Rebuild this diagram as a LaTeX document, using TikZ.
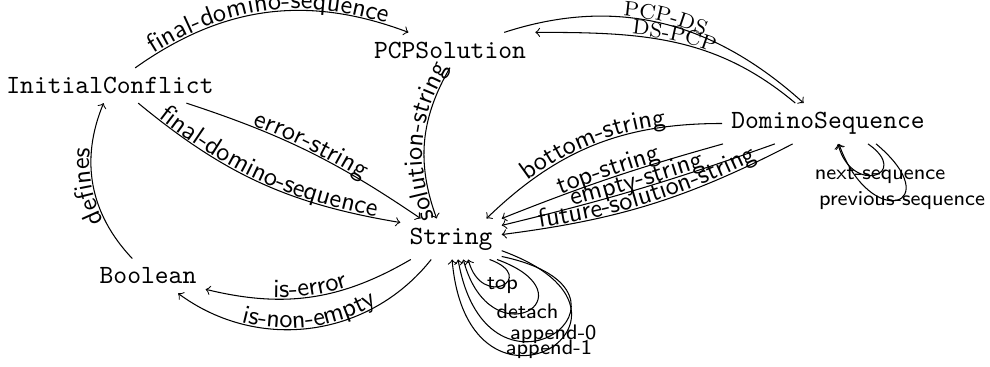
\documentclass[tikz,border=0pt]{standalone}
\usetikzlibrary{decorations.text}
\tikzset{
	type/.style={font=\ttfamily},
	lbl/.style={postaction={decorate,decoration={text along path,text align=center,raise=0.6pt,text={|\sffamily|#1}}}},
	lblrm/.style={postaction={decorate,decoration={text along path,text align=center,raise=0.6pt,text={|\footnotesize|#1}}}},
	looplbl/.style={font=\sffamily\footnotesize,inner sep=0pt}
}
\begin{document}
\begin{tikzpicture}[x=0.38pt,y=0.38pt]
	\useasboundingbox (0,0) rectangle (990,367);
	\node[type] (ic) at (110,281.5) {InitialConflict};
	\node[type] (pcp) at (450,317) {PCPSolution};
	\node[type] (ds) at (828,243.5) {DominoSequence};
	\node[type] (str) at (451,128) {String};
	\node[type] (bool) at (148,91) {Boolean};
	\draw[->,lbl={final-domino-sequence}] (ic.35) to[bend left=28] (pcp.157);
	\draw[->,lbl={error-string}] (ic.-13) to[bend left=8] (str.146);
	\draw[->,lbl={final-domino-sequence}] (ic.-32) to[bend right=15] (str.162);
	\draw[<-,lbl={solution-string}] (str.125) to[bend left=25] (pcp.south);
	\draw[->,lblrm={PCP-DS}] (pcp.18) to[out=18,in=138] (ds.140);
	\draw[<-,lblrm={DS-PCP}] (pcp.north east) to[out=0,in=140] (ds.148);
	\draw[<-,lbl={bottom-string}] (str.30) to[bend left=22] (ds.west);
	\draw[<-,lbl={top-string}] (str.north east) to[bend left=3] (ds.191);
	\draw[<-,lbl={empty-string}] (str.15) to[bend right=3] (ds.201);
	\draw[<-,lbl={future-solution-string}] (str.5) to[bend right=10] (ds.210);
	\draw[->] (ds.-27) to[out=-35,in=-75,distance=20.5pt] node[looplbl,xshift=2pt] {next-sequence} (ds.-64);
	\draw[->] (ds.-23) to[out=-40,in=-70,distance=36pt] node[looplbl,xshift=2pt] {previous-sequence} (ds.-62);
	\draw[<-,lbl={is-error}] (bool.-13) to[bend right=22] (str.207);
	\draw[<-,lbl={is-non-empty}] (bool.-30) to[bend right=44] (str.226);
	\draw[->,lbl={defines}] (bool.132) to[bend left=33] (ic.250);
	\draw[->] (str.-28) to[out=-20,in=-75,distance=20pt] node[looplbl] {top} (str.-50);
	\draw[->] (str.-24) to[out=-20,in=-75,distance=40pt] node[looplbl] {detach} (str.-59);
	\draw[->] (str.-19) to[out=-12,in=-80,distance=64.6pt] node[looplbl] {append-0} (str.-71);
	\draw[->] (str.-13) to[out=-20,in=-85,distance=71pt] node[looplbl] {append-1} (str.-87);
\end{tikzpicture}
\end{document}
